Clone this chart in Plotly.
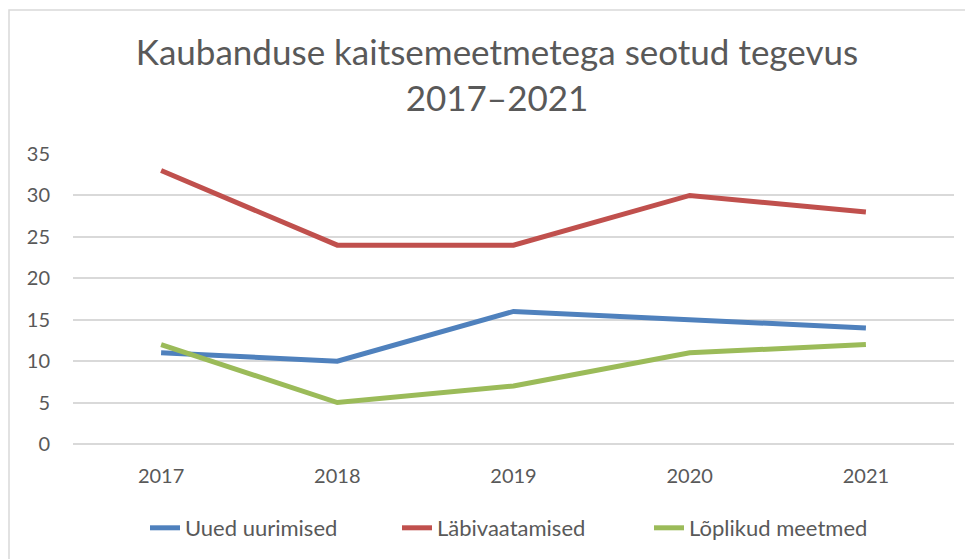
import plotly.graph_objects as go

years = ["2017", "2018", "2019", "2020", "2021"]
uued = [11, 10, 16, 15, 14]
labivaatamised = [33, 24, 24, 30, 28]
loplikud = [12, 5, 7, 11, 12]
series_names = ["Uued uurimised", "Läbivaatamised", "Lõplikud meetmed"]
colors = ["#4F81BD", "#C0504D", "#9BBB59"]

OFF = 8  # page body margin
W, H = 973 - OFF, 559 - OFF
px_l, px_r, px_t, px_b = 73 - OFF, 954 - OFF, 154 - OFF, 444 - OFF
L, R, T, B = px_l, W - px_r, px_t, H - px_b
pw, ph = px_r - px_l, px_b - px_t


def fx(sx):  # screen x -> paper x
    return (sx - OFF - px_l) / pw


def fy(sy):  # screen y -> paper y
    return (px_b - (sy - OFF)) / ph


fig = go.Figure()
for name, vals, c in zip(series_names, [uued, labivaatamised, loplikud], colors):
    fig.add_trace(go.Scatter(x=years, y=vals, mode="lines", name=name,
                             line=dict(color=c, width=5)))

font = "Lato"
txt = "#595959"
fig.update_layout(
    width=W, height=H,
    margin=dict(l=L, r=R, t=T, b=B, autoexpand=False),
    paper_bgcolor="white", plot_bgcolor="white",
    font=dict(family=font, color=txt, size=20),
    title=dict(text="Kaubanduse kaitsemeetmetega seotud tegevus<br>2017–2021",
               x=fx(497), xref="paper", xanchor="center",
               y=1 - 57 / H, yanchor="middle",
               font=dict(family=font, size=35, color=txt)),
    xaxis=dict(type="category", range=[-0.5, 4.5], showgrid=False, showline=False,
               zeroline=False, ticks="outside", ticklen=0, ticklabelstandoff=14,
               tickfont=dict(size=20, color=txt)),
    yaxis=dict(range=[0, 35], dtick=5, tick0=0, showgrid=True, gridcolor="#D9D9D9",
               gridwidth=1.5, zeroline=True, zerolinecolor="#D9D9D9", zerolinewidth=1.5,
               showline=False, ticks="outside", ticklen=0, ticklabelstandoff=18,
               tickfont=dict(size=20, color=txt)),
    legend=dict(orientation="h", x=fx(145), xanchor="left",
                y=fy(528), yanchor="middle",
                entrywidth=207, entrywidthmode="pixels",
                font=dict(size=22, color=txt)),
    showlegend=True,
)

# chart area border
fig.add_shape(type="rect", xref="paper", yref="paper",
              x0=fx(9), x1=fx(990), y0=fy(575), y1=fy(10),
              line=dict(color="#D9D9D9", width=1.5), fillcolor="rgba(0,0,0,0)",
              layer="below")

fig.write_html("out.html")
